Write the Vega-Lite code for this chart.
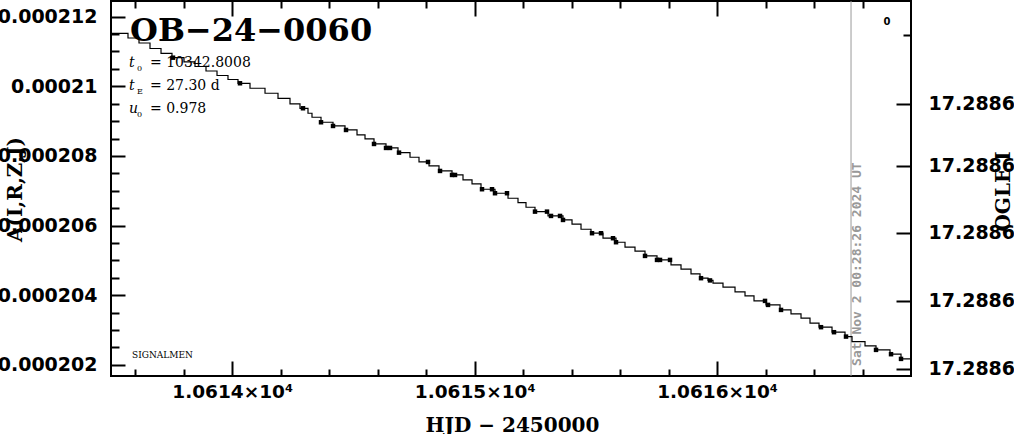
{
  "$schema": "https://vega.github.io/schema/vega-lite/v6.json",
  "width": 800,
  "height": 375,
  "autosize": "none",
  "padding": {"left": 111, "top": 1, "right": 103, "bottom": 58},
  "background": "white",
  "config": {
    "view": {"stroke": "black", "strokeWidth": 2},
    "axis": {
      "domain": false, "grid": false, "tickColor": "black", "tickWidth": 2,
      "labelColor": "black", "labelFont": "DejaVu Sans", "labelFontSize": 19, "labelFontWeight": "bold",
      "labelFlush": false, "labelOverlap": false,
      "titleColor": "black", "titleFont": "DejaVu Serif", "titleFontSize": 20, "titleFontWeight": "bold"
    }
  },
  "datasets": {
    "model": [
      {"hjd": 10613.5000, "A": 0.000211523},
      {"hjd": 10613.5701, "A": 0.000211388},
      {"hjd": 10613.6155, "A": 0.000211244},
      {"hjd": 10613.6609, "A": 0.000211086},
      {"hjd": 10613.7063, "A": 0.000210948},
      {"hjd": 10613.7516, "A": 0.000210822},
      {"hjd": 10613.8011, "A": 0.000210699},
      {"hjd": 10613.8465, "A": 0.000210569},
      {"hjd": 10613.8919, "A": 0.000210440},
      {"hjd": 10613.9373, "A": 0.000210311},
      {"hjd": 10613.9826, "A": 0.000210196},
      {"hjd": 10614.0239, "A": 0.000210087},
      {"hjd": 10614.0734, "A": 0.000209944},
      {"hjd": 10614.1353, "A": 0.000209800},
      {"hjd": 10614.1889, "A": 0.000209656},
      {"hjd": 10614.2384, "A": 0.000209493},
      {"hjd": 10614.2796, "A": 0.000209369},
      {"hjd": 10614.3126, "A": 0.000209226},
      {"hjd": 10614.3291, "A": 0.000209111},
      {"hjd": 10614.3663, "A": 0.000208967},
      {"hjd": 10614.4158, "A": 0.000208861},
      {"hjd": 10614.4653, "A": 0.000208746},
      {"hjd": 10614.5148, "A": 0.000208603},
      {"hjd": 10614.5478, "A": 0.000208488},
      {"hjd": 10614.5849, "A": 0.000208344},
      {"hjd": 10614.6344, "A": 0.000208230},
      {"hjd": 10614.6839, "A": 0.000208095},
      {"hjd": 10614.7334, "A": 0.000207963},
      {"hjd": 10614.7705, "A": 0.000207828},
      {"hjd": 10614.8118, "A": 0.000207713},
      {"hjd": 10614.8530, "A": 0.000207569},
      {"hjd": 10614.9067, "A": 0.000207454},
      {"hjd": 10614.9520, "A": 0.000207311},
      {"hjd": 10614.9892, "A": 0.000207196},
      {"hjd": 10615.0263, "A": 0.000207044},
      {"hjd": 10615.0840, "A": 0.000206929},
      {"hjd": 10615.1377, "A": 0.000206785},
      {"hjd": 10615.1789, "A": 0.000206659},
      {"hjd": 10615.2119, "A": 0.000206527},
      {"hjd": 10615.2490, "A": 0.000206401},
      {"hjd": 10615.3027, "A": 0.000206277},
      {"hjd": 10615.3645, "A": 0.000206162},
      {"hjd": 10615.4017, "A": 0.000206039},
      {"hjd": 10615.4388, "A": 0.000205895},
      {"hjd": 10615.4800, "A": 0.000205781},
      {"hjd": 10615.5295, "A": 0.000205637},
      {"hjd": 10615.5832, "A": 0.000205522},
      {"hjd": 10615.6203, "A": 0.000205379},
      {"hjd": 10615.6615, "A": 0.000205264},
      {"hjd": 10615.7028, "A": 0.000205129},
      {"hjd": 10615.7523, "A": 0.000205014},
      {"hjd": 10615.8100, "A": 0.000204870},
      {"hjd": 10615.8513, "A": 0.000204747},
      {"hjd": 10615.8925, "A": 0.000204612},
      {"hjd": 10615.9297, "A": 0.000204489},
      {"hjd": 10615.9627, "A": 0.000204425},
      {"hjd": 10615.9833, "A": 0.000204345},
      {"hjd": 10616.0245, "A": 0.000204230},
      {"hjd": 10616.0741, "A": 0.000204095},
      {"hjd": 10616.1153, "A": 0.000203980},
      {"hjd": 10616.1524, "A": 0.000203837},
      {"hjd": 10616.2019, "A": 0.000203722},
      {"hjd": 10616.2597, "A": 0.000203578},
      {"hjd": 10616.3050, "A": 0.000203464},
      {"hjd": 10616.3463, "A": 0.000203340},
      {"hjd": 10616.3834, "A": 0.000203197},
      {"hjd": 10616.4206, "A": 0.000203082},
      {"hjd": 10616.4742, "A": 0.000202938},
      {"hjd": 10616.5278, "A": 0.000202812},
      {"hjd": 10616.5567, "A": 0.000202668},
      {"hjd": 10616.6103, "A": 0.000202545},
      {"hjd": 10616.6557, "A": 0.000202430},
      {"hjd": 10616.7134, "A": 0.000202306},
      {"hjd": 10616.7588, "A": 0.000202171},
      {"hjd": 10616.8000, "A": 0.000202171}
    ],
    "obs": [
      {"hjd": 10613.7557, "A": 0.000210822},
      {"hjd": 10614.0321, "A": 0.000210087},
      {"hjd": 10614.2920, "A": 0.000209369},
      {"hjd": 10614.3663, "A": 0.000208967},
      {"hjd": 10614.4158, "A": 0.000208861},
      {"hjd": 10614.4694, "A": 0.000208746},
      {"hjd": 10614.5849, "A": 0.000208344},
      {"hjd": 10614.6344, "A": 0.000208230},
      {"hjd": 10614.6509, "A": 0.000208230},
      {"hjd": 10614.6880, "A": 0.000208095},
      {"hjd": 10614.8077, "A": 0.000207828},
      {"hjd": 10614.8572, "A": 0.000207569},
      {"hjd": 10614.9067, "A": 0.000207454},
      {"hjd": 10614.9190, "A": 0.000207454},
      {"hjd": 10615.0304, "A": 0.000207044},
      {"hjd": 10615.0717, "A": 0.000207044},
      {"hjd": 10615.0840, "A": 0.000206929},
      {"hjd": 10615.1335, "A": 0.000206929},
      {"hjd": 10615.2490, "A": 0.000206401},
      {"hjd": 10615.2985, "A": 0.000206401},
      {"hjd": 10615.3150, "A": 0.000206277},
      {"hjd": 10615.3522, "A": 0.000206277},
      {"hjd": 10615.3645, "A": 0.000206162},
      {"hjd": 10615.4842, "A": 0.000205781},
      {"hjd": 10615.5213, "A": 0.000205781},
      {"hjd": 10615.5708, "A": 0.000205637},
      {"hjd": 10615.5832, "A": 0.000205522},
      {"hjd": 10615.7028, "A": 0.000205129},
      {"hjd": 10615.7523, "A": 0.000205014},
      {"hjd": 10615.7647, "A": 0.000205014},
      {"hjd": 10615.8059, "A": 0.000205014},
      {"hjd": 10615.9338, "A": 0.000204489},
      {"hjd": 10615.9709, "A": 0.000204425},
      {"hjd": 10616.1978, "A": 0.000203837},
      {"hjd": 10616.2102, "A": 0.000203722},
      {"hjd": 10616.2638, "A": 0.000203578},
      {"hjd": 10616.4288, "A": 0.000203082},
      {"hjd": 10616.4824, "A": 0.000202938},
      {"hjd": 10616.5319, "A": 0.000202812},
      {"hjd": 10616.6557, "A": 0.000202430},
      {"hjd": 10616.7176, "A": 0.000202306},
      {"hjd": 10616.7588, "A": 0.000202171}
    ]
  },
  "layer": [
    {
      "data": {"values": [{}]},
      "mark": {"type": "rule", "color": "#999999", "strokeWidth": 1},
      "encoding": {
        "x": {"datum": 10616.5526, "type": "quantitative", "scale": {"domain": [10613.5, 10616.8], "nice": false, "zero": false},
              "axis": {"orient": "top", "values": [10614, 10615, 10616], "tickSize": 15, "offset": -15, "labels": false, "title": null}}
      }
    },
    {
      "data": {"values": [{}]},
      "mark": {"type": "text", "text": "Sat Nov  2 00:28:26 2024 UT", "angle": 270, "align": "left", "baseline": "top", "font": "DejaVu Sans Mono", "fontWeight": "bold", "fontSize": 13, "color": "#999999"},
      "encoding": {
        "x": {"datum": 10616.5526, "type": "quantitative", "scale": {"domain": [10613.5, 10616.8], "nice": false, "zero": false},
              "axis": {"orient": "top", "values": [10613.6, 10613.8, 10614.2, 10614.4, 10614.6, 10614.8, 10615.2, 10615.4, 10615.6, 10615.8, 10616.2, 10616.4, 10616.6], "tickSize": 7, "offset": -7, "labels": false, "title": null}},
        "y": {"datum": 0.00020197, "type": "quantitative", "scale": {"domain": [0.00020168, 0.00021245], "nice": false, "zero": false},
              "axis": {"orient": "right", "values": [0.000209493, 0.000207713, 0.000205789, 0.000203837, 0.000201884], "tickSize": 15, "offset": -15, "labels": false, "title": null}}
      }
    },
    {
      "data": {"values": [{}]},
      "mark": {"type": "text", "text": "SIGNALMEN", "align": "left", "baseline": "middle", "font": "DejaVu Serif", "fontSize": 9, "color": "black"},
      "encoding": {
        "x": {"datum": 10613.5866, "type": "quantitative", "scale": {"domain": [10613.5, 10616.8], "nice": false, "zero": false},
              "axis": {"orient": "bottom", "values": [10614, 10615, 10616], "tickSize": 15, "offset": -15, "labels": false, "title": null}},
        "y": {"datum": 0.00020229, "type": "quantitative", "scale": {"domain": [0.00020168, 0.00021245], "nice": false, "zero": false},
              "axis": {"orient": "right", "values": [0.00021147], "tickSize": 8, "offset": -8, "labels": false, "title": null}}
      }
    },
    {
      "data": {"name": "model"},
      "mark": {"type": "line", "interpolate": "step-after", "color": "black", "strokeWidth": 1.2, "clip": true},
      "encoding": {
        "x": {"field": "hjd", "type": "quantitative", "scale": {"domain": [10613.5, 10616.8], "nice": false, "zero": false},
              "axis": {"orient": "bottom", "values": [10614, 10615, 10616], "ticks": false, "labelPadding": 6, "labelFontSize": 18.5,
                       "labelExpr": "format(datum.value / 10000, '.4f') + '×10⁴'",
                       "title": "HJD − 2450000", "titleX": 401, "titleY": 49, "titleBaseline": "middle", "titleAlign": "center"}},
        "y": {"field": "A", "type": "quantitative", "scale": {"domain": [0.00020168, 0.00021245], "nice": false, "zero": false},
              "axis": {"orient": "left", "values": [0.000202, 0.000204, 0.000206, 0.000208, 0.00021, 0.000212], "ticks": false, "labelPadding": 14, "labelExpr": "'' + datum.value",
                       "title": "A(I,R,Z,J)", "titleX": -96, "titleY": 188, "titleAngle": 270, "titleBaseline": "middle", "titleAlign": "center"}}
      }
    },
    {
      "data": {"name": "obs"},
      "mark": {"type": "point", "shape": "square", "filled": true, "color": "black", "size": 20, "opacity": 1},
      "encoding": {
        "x": {"field": "hjd", "type": "quantitative", "scale": {"domain": [10613.5, 10616.8], "nice": false, "zero": false},
              "axis": {"orient": "bottom", "values": [10613.6, 10613.8, 10614.2, 10614.4, 10614.6, 10614.8, 10615.2, 10615.4, 10615.6, 10615.8, 10616.2, 10616.4, 10616.6], "tickSize": 7, "offset": -7, "labels": false, "title": null}},
        "y": {"field": "A", "type": "quantitative", "scale": {"domain": [0.00020168, 0.00021245], "nice": false, "zero": false},
              "axis": {"orient": "left", "values": [0.0002025, 0.000203, 0.0002035, 0.0002045, 0.000205, 0.0002055, 0.0002065, 0.000207, 0.0002075, 0.0002085, 0.000209, 0.0002095, 0.0002105, 0.000211, 0.0002115], "tickSize": 8, "offset": -8, "labels": false, "title": null}}
      }
    },
    {
      "data": {"values": [{}]},
      "mark": {"type": "text", "text": "OB−24−0060", "align": "left", "baseline": "middle", "font": "DejaVu Serif", "fontWeight": "bold", "fontSize": 32, "color": "black"},
      "encoding": {
        "x": {"datum": 10613.5784, "type": "quantitative", "axis": null},
        "y": {"datum": 0.0002116, "type": "quantitative", "scale": {"domain": [0.00020168, 0.00021245], "nice": false, "zero": false},
              "axis": {"orient": "left", "values": [0.000202, 0.000204, 0.000206, 0.000208, 0.00021, 0.000212], "tickSize": 14, "offset": -14, "labels": false, "title": null}}
      }
    },
    {
      "data": {"values": [{}]},
      "mark": {"type": "text", "text": ["t", "t", "u"], "lineHeight": 23, "align": "left", "baseline": "alphabetic", "font": "DejaVu Serif", "fontStyle": "italic", "fontSize": 14, "color": "black"},
      "encoding": {
        "x": {"datum": 10613.5743, "type": "quantitative", "axis": null},
        "y": {"datum": 0.00021055, "type": "quantitative", "scale": {"domain": [0.00020168, 0.00021245], "nice": false, "zero": false},
              "axis": {"orient": "right", "values": [0.000209493, 0.000207713, 0.000205789, 0.000203837, 0.000201884], "ticks": false, "labelPadding": 17, "labelExpr": "'17.2886'",
                       "title": "OGLE I", "titleX": 92, "titleY": 190, "titleAngle": 270, "titleBaseline": "middle", "titleAlign": "center"}}
      }
    },
    {
      "data": {"values": [{}]},
      "mark": {"type": "text", "text": ["0", "E", "0"], "lineHeight": 23, "align": "left", "baseline": "alphabetic", "dx": 8, "dy": 4, "font": "DejaVu Serif", "fontSize": 8, "color": "black"},
      "encoding": {
        "x": {"datum": 10613.5743, "type": "quantitative", "axis": null},
        "y": {"datum": 0.00021055, "type": "quantitative", "axis": null}
      }
    },
    {
      "data": {"values": [{}]},
      "mark": {"type": "text", "text": ["=  10342.8008", "=  27.30 d", "=  0.978"], "lineHeight": 23, "align": "left", "baseline": "alphabetic", "dx": 21, "font": "DejaVu Serif", "fontSize": 14, "color": "black"},
      "encoding": {
        "x": {"datum": 10613.5743, "type": "quantitative", "axis": null},
        "y": {"datum": 0.00021055, "type": "quantitative", "axis": null}
      }
    },
    {
      "data": {"values": [{}]},
      "mark": {"type": "text", "text": "0", "align": "center", "baseline": "middle", "font": "DejaVu Sans", "fontWeight": "bold", "fontSize": 10, "color": "black"},
      "encoding": {
        "x": {"datum": 10616.701, "type": "quantitative", "axis": null},
        "y": {"datum": 0.00021185, "type": "quantitative", "axis": null}
      }
    }
  ],
  "resolve": {"axis": {"x": "independent", "y": "independent"}}
}
